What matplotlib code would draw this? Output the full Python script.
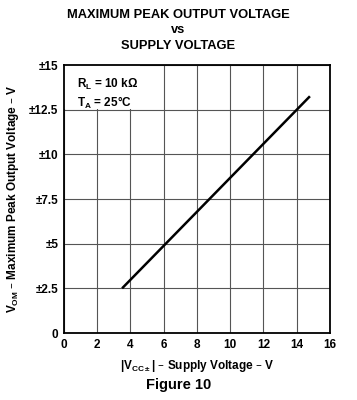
import matplotlib
matplotlib.use("Agg")
import matplotlib.pyplot as plt
from matplotlib.patches import Rectangle

plt.rcParams['font.family'] = ['Liberation Sans', 'DejaVu Sans']
plt.rcParams['font.weight'] = 'bold'

# line end points
vcc = [3.5, 14.8]
vom = [2.5, 13.25]

xticks = [0, 2, 4, 6, 8, 10, 12, 14, 16]
yticks = [0, 2.5, 5, 7.5, 10, 12.5, 15]
ylabels = ['0', '±2.5', '±5', '±7.5', '±10', '±12.5', '±15']

fig = plt.figure(figsize=(3.57, 4.0), dpi=100)
ax = fig.add_axes([0.179, 0.1675, 0.745, 0.67])
ax.set_axisbelow(True)

ax.plot(vcc, vom, color='black', lw=1.8, solid_capstyle='butt', zorder=3)

ax.set_xlim(0, 16)
ax.set_ylim(0, 15)
ax.set_xticks(xticks)
ax.set_yticks(yticks)
ax.set_yticklabels(ylabels)
ax.tick_params(length=0, labelsize=8.5, pad=4)
for lbl in ax.get_xticklabels() + ax.get_yticklabels():
    lbl.set_fontweight('bold')
ax.grid(True, color='#555555', lw=0.8)
for s in ax.spines.values():
    s.set_linewidth(1.3)

# white box behind the conditions note hides the grid there
ax.add_patch(Rectangle((0, 12.55), 4.6, 2.45, facecolor='white', edgecolor='none', zorder=2))

ax.set_xlabel(r'|V$\mathregular{_{CC\pm}}$| – Supply Voltage – V', fontsize=8.5, fontweight='bold', labelpad=5)
ax.set_ylabel(r'V$\mathregular{_{OM}}$ – Maximum Peak Output Voltage – V', fontsize=8.5, fontweight='bold', labelpad=6)

ax.text(0.05, 0.955, 'R$\\mathregular{_L}$ = 10 kΩ\nT$\\mathregular{_A}$ = 25°C', transform=ax.transAxes,
        fontsize=8.5, fontweight='bold', va='top', linespacing=1.25, zorder=4)

fig.text(0.5, 0.962, 'MAXIMUM PEAK OUTPUT VOLTAGE', ha='center', va='center', fontsize=9.3, fontweight='bold')
fig.text(0.5, 0.925, 'vs', ha='center', va='center', fontsize=9.3, fontweight='bold')
fig.text(0.5, 0.885, 'SUPPLY VOLTAGE', ha='center', va='center', fontsize=9.3, fontweight='bold')
fig.text(0.5, 0.037, 'Figure 10', ha='center', va='center', fontsize=10.5, fontweight='bold')

fig.savefig('out.png', dpi=100)
